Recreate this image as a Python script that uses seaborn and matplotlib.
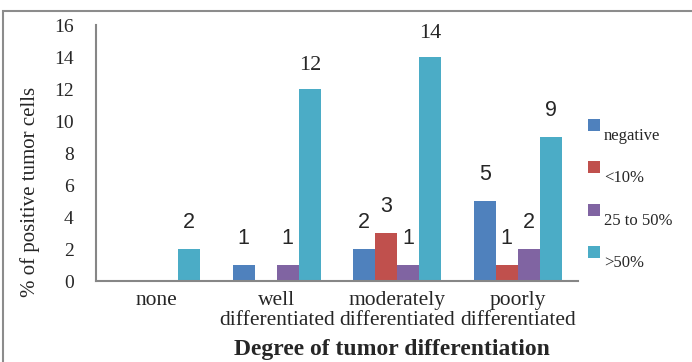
import matplotlib
matplotlib.use("Agg")
import matplotlib.pyplot as plt
from matplotlib.patches import Rectangle
import seaborn as sns
import pandas as pd

# Data
categories = ["none", "well\ndifferentiated", "moderately\ndifferentiated", "poorly\ndifferentiated"]
series = ["negative", "<10%", "25 to 50%", ">50%"]
negative = [0, 1, 2, 5]
below_10 = [0, 0, 3, 1]
from_25_to_50 = [0, 1, 1, 2]
above_50 = [2, 12, 14, 9]
y_ticks = [0, 2, 4, 6, 8, 10, 12, 14, 16]

colors = ["#4F81BD", "#C0504D", "#8064A2", "#4BACC6"]

rows = []
for name, vals in zip(series, [negative, below_10, from_25_to_50, above_50]):
    for cat, v in zip(categories, vals):
        rows.append({"category": cat, "series": name, "value": v})
df = pd.DataFrame(rows)

sns.set_style("white")
plt.rcParams["font.family"] = ["Liberation Serif", "DejaVu Serif"]

fig = plt.figure(figsize=(6.92, 3.62), dpi=100)
ax = fig.add_axes([96 / 692, 1 - 281 / 362, (578 - 96) / 692, (281 - 25) / 362])

sns.barplot(data=df, x="category", y="value", hue="series", order=categories,
            hue_order=series, palette=colors, width=0.73, saturation=1,
            linewidth=0, edgecolor="none", errorbar=None, legend=False, ax=ax)

ax.set_xlim(-0.5, 3.5)
ax.set_ylim(0, 16)
ax.set_yticks(y_ticks)
ax.set_yticklabels([str(t) for t in y_ticks], fontsize=14)

# category boundaries carry the tick marks, centres carry the labels
ax.set_xticks([-0.5, 0.5, 1.5, 2.5, 3.5])
ax.set_xticklabels([])
ax.set_xticks(range(len(categories)), minor=True)
ax.set_xticklabels(categories, minor=True, fontsize=15.5, linespacing=1.12)
ax.tick_params(axis="x", which="minor", length=0, pad=7)
ax.tick_params(axis="x", which="major", length=5, width=1.2, color="#868686", direction="out")
ax.tick_params(axis="y", length=5, width=1.2, color="#868686", direction="out", pad=11)
ax.set_xlabel("")
ax.set_ylabel("")

for side in ["top", "right"]:
    ax.spines[side].set_visible(False)
for side in ["left", "bottom"]:
    ax.spines[side].set_color("#868686")
    ax.spines[side].set_linewidth(1.5)

# value labels above each non-zero bar
for container, vals in zip(ax.containers, [negative, below_10, from_25_to_50, above_50]):
    for bar, v in zip(container, vals):
        if v == 0:
            continue
        x = bar.get_x() + bar.get_width() / 2
        if v >= 10:
            ax.annotate(str(v), (x, v), xytext=(0, 17), textcoords="offset points",
                        ha="center", va="center", fontsize=16,
                        family=["Liberation Serif"])
        else:
            ax.annotate(str(v), (x, v), xytext=(0, 19), textcoords="offset points",
                        ha="center", va="center", fontsize=15.5,
                        family=["Liberation Sans"])

fig.text(30 / 692, 1 - 192 / 362, "% of positive tumor cells", rotation=90,
         ha="center", va="center", fontsize=15)
fig.text(392 / 692, 1 - 350 / 362, "Degree of tumor differentiation",
         ha="center", va="center", fontsize=17, fontweight="bold")

# legend: swatch with its label set slightly lower and to the right
for i, (name, col) in enumerate(zip(series, colors)):
    top = 119 + i * 42.3
    fig.add_artist(Rectangle((588 / 692, 1 - (top + 12) / 362), 12 / 692, 12 / 362,
                             transform=fig.transFigure, facecolor=col, edgecolor="none"))
    fig.text(604 / 692, 1 - (top + 17) / 362, name, ha="left", va="center", fontsize=12)

# outer frame
fig.add_artist(Rectangle((3 / 692, -0.1), 1.2, 1 - 11 / 362 + 0.1,
                         transform=fig.transFigure, facecolor="none",
                         edgecolor="#8c8c8c", linewidth=1.5))

fig.savefig("out.png", dpi=100)
